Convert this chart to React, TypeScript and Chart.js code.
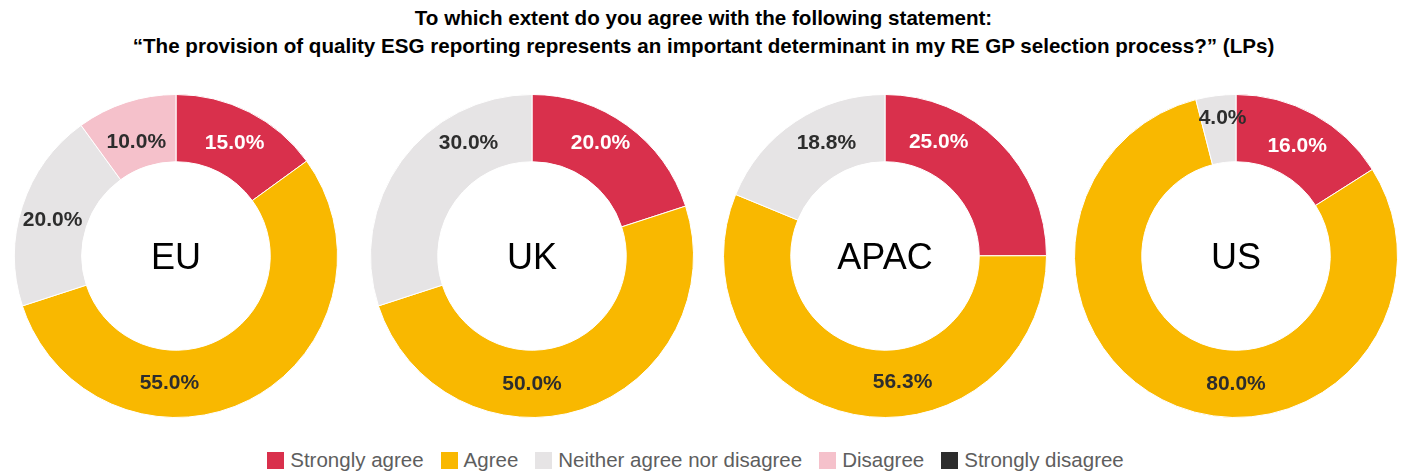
import React, { useEffect, useRef } from "react";
import { Chart, registerables } from "chart.js";

Chart.register(...registerables);

const titleLines = [
  "To which extent do you agree with the following statement:",
  "\u201CThe provision of quality ESG reporting represents an important determinant in my RE GP selection process?\u201D (LPs)",
];

const categories = [
  "Strongly agree",
  "Agree",
  "Neither agree nor disagree",
  "Disagree",
  "Strongly disagree",
];

const regionNames = ["EU", "UK", "APAC", "US"];
const euValues = [15.0, 55.0, 20.0, 10.0, 0];
const ukValues = [20.0, 50.0, 30.0, 0, 0];
const apacValues = [25.0, 56.3, 18.8, 0, 0];
const usValues = [16.0, 80.0, 4.0, 0, 0];
const regionValues = [euValues, ukValues, apacValues, usValues];

const sliceColors = ["#D9304C", "#F9B800", "#E6E4E5", "#F5C1CB", "#2D2D2D"];
const labelColors = ["#FFFFFF", "#2D2D2D", "#2D2D2D", "#2D2D2D", "#FFFFFF"];

// Label placement (degrees clockwise from 12 o'clock, null = slice middle), per region
const labelAngles: (number | null)[][] = [
  [null, 183, -73, -19, null],
  [31, 180, -29, null, null],
  [25, 172, -27, null, null],
  [null, 180, -5.5, null, null],
];
const labelRadii: (number | null)[][] = [
  [129, 126, 129, 122, null],
  [133, 126, 131, null, null],
  [127, 126, 129, null, null],
  [127, 126, 140, null, null],
];

const FONT = '"Liberation Sans", Arial, Helvetica, sans-serif';
const centersX = [175.5, 532, 885, 1235.5];
const centerY = 255.5;
const CANVAS = 330;

const labelPlugin = {
  id: "sliceLabels",
  afterDatasetsDraw(chart: any) {
    const ctx = chart.ctx;
    const opts = chart.options.plugins.sliceLabels;
    const meta = chart.getDatasetMeta(0);
    const data = chart.data.datasets[0].data as number[];
    ctx.save();
    meta.data.forEach((arc: any, i: number) => {
      const v = data[i];
      if (!v) return;
      const p = arc.getProps(["x", "y", "startAngle", "endAngle", "innerRadius", "outerRadius"], true);
      const ov = opts.angles[i];
      const ang = ov === null || ov === undefined ? (p.startAngle + p.endAngle) / 2 : ((ov - 90) * Math.PI) / 180;
      const rr = opts.radii[i] ?? (p.innerRadius + p.outerRadius) / 2;
      const lx = p.x + Math.cos(ang) * rr;
      const ly = p.y + Math.sin(ang) * rr;
      ctx.font = `bold 21px ${FONT}`;
      ctx.fillStyle = labelColors[i];
      ctx.textAlign = "center";
      ctx.textBaseline = "alphabetic";
      ctx.fillText(v.toFixed(1) + "%", lx, ly + 7.5);
    });
    const a0 = meta.data[0];
    ctx.font = `36px ${FONT}`;
    ctx.fillStyle = "#000000";
    ctx.textAlign = "center";
    ctx.textBaseline = "alphabetic";
    ctx.fillText(opts.center, a0.x, a0.y + 12.9);
    ctx.restore();
  },
};

function Donut({ idx }: { idx: number }) {
  const ref = useRef<HTMLCanvasElement | null>(null);
  useEffect(() => {
    if (!ref.current) return;
    const chart = new Chart(ref.current, {
      type: "doughnut",
      data: {
        labels: categories,
        datasets: [
          {
            data: regionValues[idx],
            backgroundColor: sliceColors,
            borderColor: "#FFFFFF",
            borderWidth: 1,
          },
        ],
      },
      options: {
        responsive: false,
        animation: false,
        radius: 161.5,
        cutout: 96,
        layout: { padding: 0 },
        plugins: {
          legend: { display: false },
          tooltip: { enabled: false },
          title: { display: false },
          sliceLabels: {
            angles: labelAngles[idx],
            radii: labelRadii[idx],
            center: regionNames[idx],
          },
        } as any,
      },
      plugins: [labelPlugin],
    });
    return () => chart.destroy();
  }, [idx]);
  return (
    <canvas
      ref={ref}
      width={CANVAS}
      height={CANVAS}
      style={{
        position: "absolute",
        left: centersX[idx] - CANVAS / 2 - 8,
        top: centerY - CANVAS / 2 - 8,
        width: CANVAS,
        height: CANVAS,
      }}
    />
  );
}

export default function App() {
  return (
    <div style={{ position: "relative", width: 1391, height: 464, fontFamily: FONT }}>
      <div
        style={{
          position: "absolute",
          top: -4,
          left: 0,
          width: "100%",
          textAlign: "center",
          fontWeight: "bold",
          fontSize: 20.6,
          lineHeight: "28px",
          color: "#000",
        }}
      >
        {titleLines.map((t, i) => (
          <div key={i}>{t}</div>
        ))}
      </div>
      {regionNames.map((_, i) => (
        <Donut key={i} idx={i} />
      ))}
      <div
        style={{
          position: "absolute",
          top: 440,
          left: -8,
          width: 1391,
          display: "flex",
          justifyContent: "center",
          alignItems: "center",
          fontSize: 20.5,
          color: "#5E5E5E",
          lineHeight: "24px",
          height: 24,
        }}
      >
        {categories.map((c, i) => (
          <div key={c} style={{ display: "flex", alignItems: "center", marginRight: i < categories.length - 1 ? 17 : 0 }}>
            <span style={{ display: "inline-block", width: 17, height: 17, background: sliceColors[i], marginRight: 6 }} />
            <span>{c}</span>
          </div>
        ))}
      </div>
    </div>
  );
}
